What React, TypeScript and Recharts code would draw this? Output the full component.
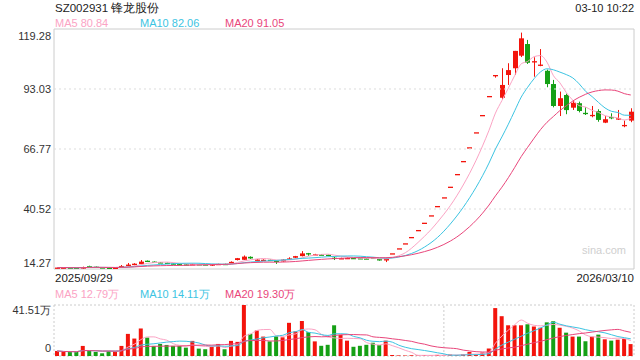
import React from 'react';
import { ComposedChart, Bar, Line, XAxis, YAxis, ReferenceLine, ReferenceArea, Cell } from 'recharts';

// daily OHLC (price in yuan), 2025/09/29 .. 2026/03/10
const opens = [
  14.6, 14.7, 14.9, 14.85, 14.8, 15.5, 15.3, 15.0, 14.85, 14.6,
  15.0, 15.6, 16.0, 16.4, 17.9, 17.5, 17.2, 17.0, 16.7, 16.4,
  16.3, 16.2, 16.4, 16.3, 15.8, 16.3, 16.5, 16.8, 18.2, 18.3,
  19.6, 18.3, 18.3, 18.3, 17.9, 17.6, 18.6, 19.2, 19.9, 21.2,
  20.6, 20.6, 20.5, 19.2, 18.8, 19.0, 19.1, 19.0, 18.9, 19.2,
  18.6, 18.0, 21.14, 23.33, 25.52, 28.28, 31.34, 34.53, 37.77, 41.84,
  45.65, 50.29, 55.84, 61.53, 67.53, 74.09, 81.65, 89.97, 99.15, 89.2,
  99.15, 102.1, 107.6, 112.7, 104.8, 103.4, 101.0, 95.2, 85.6, 90.4,
  84.85, 86.8, 82.6, 81.5, 83.4, 78.3, 80.75, 80.1, 77.2, 79.2,
];
const closes = [
  14.9, 14.9, 14.8, 14.75, 15.0, 15.45, 15.1, 14.8, 14.7, 14.8,
  15.6, 16.2, 16.6, 17.5, 17.8, 17.3, 17.0, 16.8, 16.4, 16.2,
  16.1, 16.4, 16.3, 16.2, 16.3, 16.5, 16.4, 17.4, 19.0, 19.7,
  18.9, 18.4, 18.3, 18.0, 17.5, 18.4, 18.9, 19.9, 21.1, 21.1,
  20.7, 20.5, 20.4, 19.0, 19.0, 19.1, 19.0, 18.9, 18.8, 19.1,
  18.0, 18.8, 21.14, 23.33, 25.52, 28.28, 31.34, 34.53, 37.77, 41.84,
  45.65, 50.29, 55.84, 61.53, 67.53, 74.09, 81.65, 89.97, 99.15, 94.8,
  101.3, 109.7, 115.2, 104.5, 105.2, 103.7, 95.2, 85.6, 89.0, 83.8,
  87.0, 83.4, 82.4, 81.7, 79.5, 79.8, 80.65, 80.2, 77.3, 83.1,
];
const highs = [
  15.0, 15.0, 15.0, 14.9, 15.3, 15.7, 15.4, 15.1, 14.9, 14.9,
  16.0, 16.9, 16.8, 18.2, 18.0, 17.6, 17.3, 17.1, 16.8, 16.5,
  16.4, 16.6, 16.5, 16.4, 16.4, 16.6, 16.6, 17.6, 19.1, 20.2,
  19.8, 18.6, 18.5, 18.4, 18.0, 18.6, 19.4, 20.0, 22.1, 21.3,
  20.9, 20.7, 20.6, 19.7, 19.2, 19.3, 19.2, 19.1, 19.0, 19.3,
  18.7, 18.9, 21.14, 23.33, 25.52, 28.28, 31.34, 34.53, 37.77, 41.84,
  45.65, 50.29, 55.84, 61.53, 67.53, 74.09, 81.65, 89.97, 99.15, 102.1,
  104.3, 109.7, 117.7, 114.5, 106.9, 110.5, 101.5, 97.0, 91.9, 91.0,
  88.2, 87.5, 85.0, 85.6, 84.15, 81.2, 82.4, 83.85, 79.2, 84.6,
];
const lows = [
  14.5, 14.6, 14.7, 14.6, 14.3, 15.3, 15.0, 14.7, 14.6, 14.5,
  14.9, 15.5, 15.9, 16.3, 17.4, 17.1, 16.9, 16.6, 16.3, 16.0,
  16.0, 16.0, 16.1, 16.0, 15.6, 16.2, 16.3, 16.8, 18.0, 18.2,
  18.7, 18.1, 18.1, 17.9, 16.5, 17.5, 18.5, 19.0, 19.8, 20.0,
  20.4, 20.4, 20.3, 18.2, 18.7, 18.9, 18.9, 18.8, 18.7, 18.9,
  17.9, 17.3, 21.14, 23.33, 25.52, 28.28, 31.34, 34.53, 37.77, 41.84,
  45.65, 50.29, 55.84, 61.53, 67.53, 74.09, 81.65, 89.97, 98.0, 88.5,
  94.8, 99.2, 107.0, 104.0, 98.4, 103.0, 93.8, 85.0, 81.2, 82.0,
  83.85, 82.8, 81.65, 80.65, 78.7, 78.1, 79.8, 79.5, 76.3, 78.5,
];
// volume, in 万 lots
const volumes = [
  4.1, 3.3, 3.3, 3.3, 8.2, 4.1, 3.3, 2.2, 4.1, 4.1,
  8.2, 18, 14.2, 22.4, 15, 8.2, 9.8, 9, 8.2, 8.2,
  6.8, 12.3, 6, 5.5, 7.6, 9.8, 5.5, 12.3, 11.5, 41.51,
  18, 20.8, 15.8, 11.9, 16, 15.2, 27, 20, 28.5, 19.4,
  11.9, 8.3, 9.1, 25, 17.2, 12.5, 7.5, 8.3, 9.1, 10.8,
  8.9, 12.5, 0.8, 0.5, 0.4, 0.6, 0.4, 0.7, 0.5, 0.9,
  0.6, 1.2, 0.8, 1.5, 3.3, 1.0, 2.8, 6.1, 39, 32.4,
  25, 25, 25, 25.8, 24, 23, 27.4, 28.3, 23, 19,
  15.8, 15.8, 12, 15.8, 17.4, 13.6, 12.5, 13.3, 13.9, 9.7,
];

const priceTicks = [14.27, 40.52, 66.77, 93.03, 119.28];
const volumeTicks = [0, 41.51];
const firstDate = '2025/09/29';
const lastDate = '2026/03/10';
const yearBreak = 61;

const RED = '#f3140c';
const GREEN = '#15a015';
const C_MA5 = '#fba3c4';
const C_MA10 = '#3cc4e2';
const C_MA20 = '#e9467b';
const FONT = '"Liberation Sans", Arial, sans-serif';

function movingAverage(values: number[], n: number) {
  return values.map((_, i) => {
    const part = values.slice(Math.max(0, i - n + 1), i + 1);
    return part.reduce((a, b) => a + b, 0) / part.length;
  });
}

const ma5 = movingAverage(closes, 5);
const ma10 = movingAverage(closes, 10);
const ma20 = movingAverage(closes, 20);
const vma5 = movingAverage(volumes, 5);
const vma10 = movingAverage(volumes, 10);
const vma20 = movingAverage(volumes, 20);

const rows = closes.map((close, i) => ({
  idx: i + 1,
  open: opens[i],
  close,
  high: highs[i],
  low: lows[i],
  range: [lows[i], highs[i]],
  vol: volumes[i],
  ma5: ma5[i],
  ma10: ma10[i],
  ma20: ma20[i],
  vma5: vma5[i],
  vma10: vma10[i],
  vma20: vma20[i],
}));

const Candle = (props: any) => {
  const { x, y, width, height, payload } = props;
  const { open, close, high, low } = payload;
  const cx = Math.round(x + width / 2) + 0.5;
  const toY = (v: number) => (high === low ? y : y + ((high - v) / (high - low)) * height);
  const color = close >= open ? RED : GREEN;
  const top = toY(Math.max(open, close));
  const bot = toY(Math.min(open, close));
  return (
    <g>
      <line x1={cx} x2={cx} y1={y} y2={y + height} stroke={color} strokeWidth={1} />
      <rect x={cx - 2.5} y={top} width={5} height={Math.max(bot - top, 1.3)} fill={color} />
    </g>
  );
};

const PriceTick = (props: any) => {
  const { y, payload } = props;
  const v = payload.value;
  let dy = 4;
  if (v === priceTicks[priceTicks.length - 1]) dy = 11;
  if (v === priceTicks[0]) dy = -2;
  return (
    <text x={51} y={y + dy} textAnchor="end" fontSize={11} fill="#333" fontFamily={FONT}>
      {v.toFixed(2)}
    </text>
  );
};

const VolTick = (props: any) => {
  const { y, payload } = props;
  const v = payload.value;
  const top = v === volumeTicks[volumeTicks.length - 1];
  return (
    <text x={51} y={y + (top ? 9 : -4)} textAnchor="end" fontSize={11} fill="#333" fontFamily={FONT}>
      {top ? `${v.toFixed(2)}万` : '0'}
    </text>
  );
};

const label = (left: number, top: number, color: string, text: string, extra: any = {}) => (
  <div style={{ position: 'absolute', left, top, color, fontSize: 11, lineHeight: '14px', fontFamily: FONT, whiteSpace: 'nowrap', ...extra }}>
    {text}
  </div>
);

export default function App() {
  return (
    <div style={{ position: 'fixed', left: 0, top: 0, width: 640, height: 360, background: '#fff', overflow: 'hidden' }}>
      {label(55, 0.5, '#222', 'SZ002931 锋龙股份', { fontSize: 11.5 })}
      {label(0, 1, '#222', '03-10 10:22', { left: undefined, right: 6 })}
      {label(55, 15.5, C_MA5, 'MA5 80.84')}
      {label(140, 15.5, C_MA10, 'MA10 82.06')}
      {label(225, 15.5, C_MA20, 'MA20 91.05')}

      <div style={{ position: 'absolute', left: 0, top: 0 }}>
        <ComposedChart width={640} height={270} data={rows} margin={{ top: 29, right: 6, bottom: 1, left: 0 }} barCategoryGap="8%">
          <XAxis dataKey="idx" hide />
          <YAxis
            width={54}
            domain={[priceTicks[0], priceTicks[priceTicks.length - 1]]}
            ticks={priceTicks}
            interval={0}
            axisLine={false}
            tickLine={false}
            tick={<PriceTick />}
            allowDataOverflow
          />
          {priceTicks.slice(1, -1).map((t) => (
            <ReferenceLine key={t} y={t} stroke="#ddd" strokeDasharray="2 3" />
          ))}
          <ReferenceArea y1={priceTicks[0]} y2={priceTicks[priceTicks.length - 1]} stroke="#ccc" fill="none" fillOpacity={0} />
          <Bar dataKey="range" shape={<Candle />} isAnimationActive={false} />
          <Line dataKey="ma5" stroke={C_MA5} strokeWidth={1} dot={false} type="monotone" isAnimationActive={false} />
          <Line dataKey="ma10" stroke={C_MA10} strokeWidth={1} dot={false} type="monotone" isAnimationActive={false} />
          <Line dataKey="ma20" stroke={C_MA20} strokeWidth={1} dot={false} type="monotone" isAnimationActive={false} />
        </ComposedChart>
      </div>

      {label(582, 243, '#cfcfcf', 'sina.com', { fontSize: 11 })}
      {label(55, 271, '#222', firstDate, { fontSize: 11.5 })}
      {label(0, 271, '#222', lastDate, { left: undefined, right: 6, fontSize: 11.5 })}
      {label(55, 287, C_MA5, 'MA5 12.79万')}
      {label(140, 287, C_MA10, 'MA10 14.11万')}
      {label(225, 287, C_MA20, 'MA20 19.30万')}

      <div style={{ position: 'absolute', left: 0, top: 300 }}>
        <ComposedChart width={640} height={57} data={rows} margin={{ top: 5, right: 6, bottom: 1, left: 0 }}>
          <XAxis dataKey="idx" hide />
          <YAxis
            width={54}
            domain={[volumeTicks[0], volumeTicks[1]]}
            ticks={volumeTicks}
            interval={0}
            axisLine={false}
            tickLine={false}
            tick={<VolTick />}
            allowDataOverflow
          />
          <ReferenceArea y1={volumeTicks[0]} y2={volumeTicks[1]} stroke="#ccc" strokeDasharray="2 2" fill="none" fillOpacity={0} />
          <ReferenceLine x={yearBreak} stroke="#ccc" strokeDasharray="2 2" />
          <Bar dataKey="vol" barSize={4} isAnimationActive={false}>
            {rows.map((r) => (
              <Cell key={r.idx} fill={r.close >= r.open ? RED : GREEN} />
            ))}
          </Bar>
          <Line dataKey="vma5" stroke={C_MA5} strokeWidth={1} dot={false} type="monotone" isAnimationActive={false} />
          <Line dataKey="vma10" stroke={C_MA10} strokeWidth={1} dot={false} type="monotone" isAnimationActive={false} />
          <Line dataKey="vma20" stroke={C_MA20} strokeWidth={1} dot={false} type="monotone" isAnimationActive={false} />
        </ComposedChart>
      </div>
    </div>
  );
}
